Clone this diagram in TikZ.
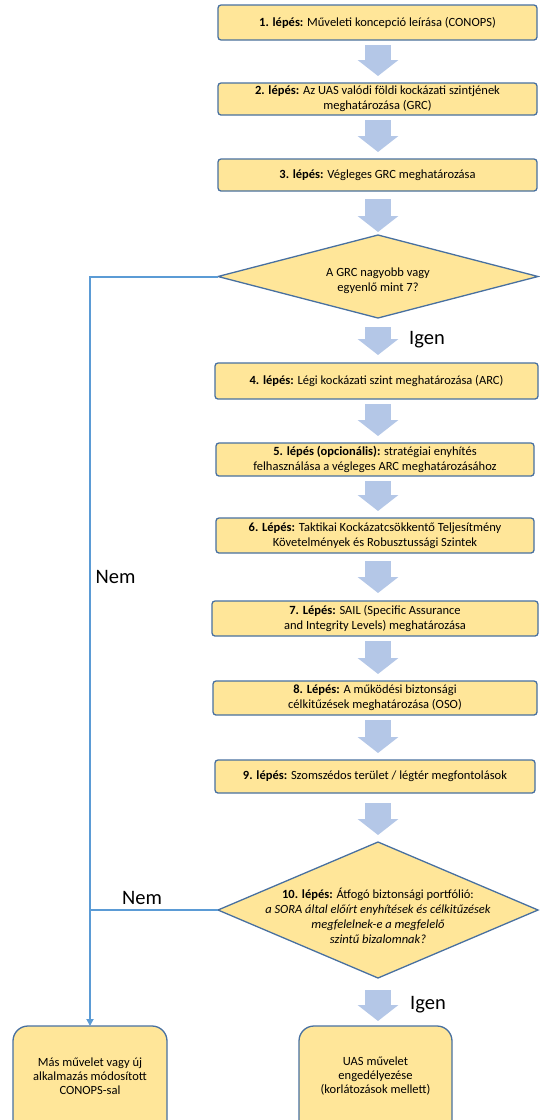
\documentclass[tikz,border=0pt]{standalone}
\usepackage{fontspec}
\setmainfont{Carlito}
\usetikzlibrary{shapes.geometric,arrows.meta}
\definecolor{stepfill}{RGB}{255,230,153}
\definecolor{stepdraw}{RGB}{72,112,160}
\definecolor{blockblue}{RGB}{180,199,231}
\definecolor{nemblue}{RGB}{91,155,213}

\begin{document}
\begin{tikzpicture}[x=1pt,y=-1pt]
		\tikzstyle{stepbox} = [rectangle,draw=stepdraw,fill=stepfill,line width=1.3pt,rounded corners=3pt,align=center,inner sep=0pt,outer sep=0pt,font=\fontsize{12.5}{15}\selectfont]
		\tikzstyle{decision} = [diamond,draw=stepdraw,fill=stepfill,line width=1.3pt,inner sep=0pt,outer sep=0pt,minimum width=320pt]
		\tikzstyle{question} = [align=center,inner sep=0pt,font=\fontsize{12.5}{15}\selectfont]
		\tikzstyle{endbox} = [stepbox,rounded corners=15pt,minimum width=154pt,minimum height=112pt]
		\tikzstyle{endtext} = [question,font=\fontsize{12.5}{14}\selectfont]
		\tikzstyle{blockarrow} = [draw=blockblue,line width=26pt,-{Triangle[width=40pt,length=16pt]},shorten <=5pt,shorten >=7pt]
		\tikzstyle{answer} = [inner sep=0pt,font=\fontsize{20.5}{24}\selectfont]
		\tikzstyle{nemline} = [draw=nemblue,line width=2pt]

		\useasboundingbox (0,0) rectangle (539,1120);

		\node[stepbox,minimum width=319pt,minimum height=35pt] (b1) at (377.5,22.5) {\textbf{1. lépés:} Műveleti koncepció leírása (CONOPS)};
		\node[stepbox,minimum width=319pt,minimum height=32pt] (b2) at (377.5,99) {\textbf{2. lépés:} Az UAS valódi földi kockázati szintjének\\meghatározása (GRC)};
		\node[stepbox,minimum width=319pt,minimum height=32pt] (b3) at (377.5,175) {\textbf{3. lépés:} Végleges GRC meghatározása};
		\node[decision,minimum height=83pt] (d1) at (378,276.5) {};
		\node[question] (q1) at (378,280.5) {A GRC nagyobb vagy\\egyenlő mint 7?};
		\node[stepbox,minimum width=323pt,minimum height=36pt] (b4) at (376.5,381) {\textbf{4. lépés:} Légi kockázati szint meghatározása (ARC)};
		\node[stepbox,minimum width=318pt,minimum height=33pt] (b5) at (375,459.5) {\textbf{5. lépés (opcionális):} stratégiai enyhítés\\felhasználása a végleges ARC meghatározásához};
		\node[stepbox,minimum width=318pt,minimum height=35pt] (b6) at (375,535.5) {\textbf{6. Lépés:} Taktikai Kockázatcsökkentő Teljesítmény\\Követelmények és Robusztussági Szintek};
		\node[stepbox,minimum width=326pt,minimum height=35pt] (b7) at (375,618.5) {\textbf{7. Lépés:} SAIL (Specific Assurance\\and Integrity Levels) meghatározása};
		\node[stepbox,minimum width=324pt,minimum height=34pt] (b8) at (375,698) {\textbf{8. Lépés:} A működési biztonsági\\célkitűzések meghatározása (OSO)};
		\node[stepbox,minimum width=320pt,minimum height=33pt] (b9) at (375,776.5) {\textbf{9. lépés:} Szomszédos terület / légtér megfontolások};
		\node[decision,minimum height=136pt] (d2) at (378,910) {};
		\node[question] (q2) at (378,916) {\textbf{10. lépés:} Átfogó biztonsági portfólió:\\\textit{a SORA által előírt enyhítések és célkitűzések}\\\textit{megfelelnek-e a megfelelő}\\\textit{szintű bizalomnak?}};
		\node[endbox] (e1) at (90,1082) {};
		\node[endtext] (t1) at (90,1076) {Más művelet vagy új\\alkalmazás módosított\\CONOPS-sal};
		\node[endbox,minimum width=153pt] (e2) at (375.5,1082) {};
		\node[endtext] (t2) at (375.5,1076) {UAS művelet\\engedélyezése\\(korlátozások mellett)};

		\path (b1.south -| d1) edge[blockarrow] (b2.north -| d1);
		\path (b2.south -| d1) edge[blockarrow] (b3.north -| d1);
		\path (b3.south -| d1) edge[blockarrow,shorten <=8pt,shorten >=3pt] (d1.north);
		\path (d1.south) edge[blockarrow,shorten <=9pt,shorten >=8pt] (b4.north -| d1);
		\path (b4.south -| d1) edge[blockarrow] (b5.north -| d1);
		\path (b5.south -| d1) edge[blockarrow] (b6.north -| d1);
		\path (b6.south -| d1) edge[blockarrow,shorten <=8pt,shorten >=8pt] (b7.north -| d1);
		\path (b7.south -| d1) edge[blockarrow] (b8.north -| d1);
		\path (b8.south -| d1) edge[blockarrow] (b9.north -| d1);
		\path (b9.south -| d1) edge[blockarrow,shorten <=10pt,shorten >=7pt] (d2.north);
		\path (d2.south) edge[blockarrow,shorten <=12pt,shorten >=5pt] (e2.north -| d2);

		\draw[nemline,-{Triangle[width=7pt,length=7pt]}] (d1.west) -| (e1.north);
		\draw[nemline] (d2.west) -- (d2.west -| e1.north);

		\node[answer] (igen1) at (427,340) {Igen};
		\node[answer] (igen2) at (428,1005) {Igen};
		\node[answer] (nem1) at (115.5,577) {Nem};
		\node[answer] (nem2) at (142,898) {Nem};
	\end{tikzpicture}
\end{document}
